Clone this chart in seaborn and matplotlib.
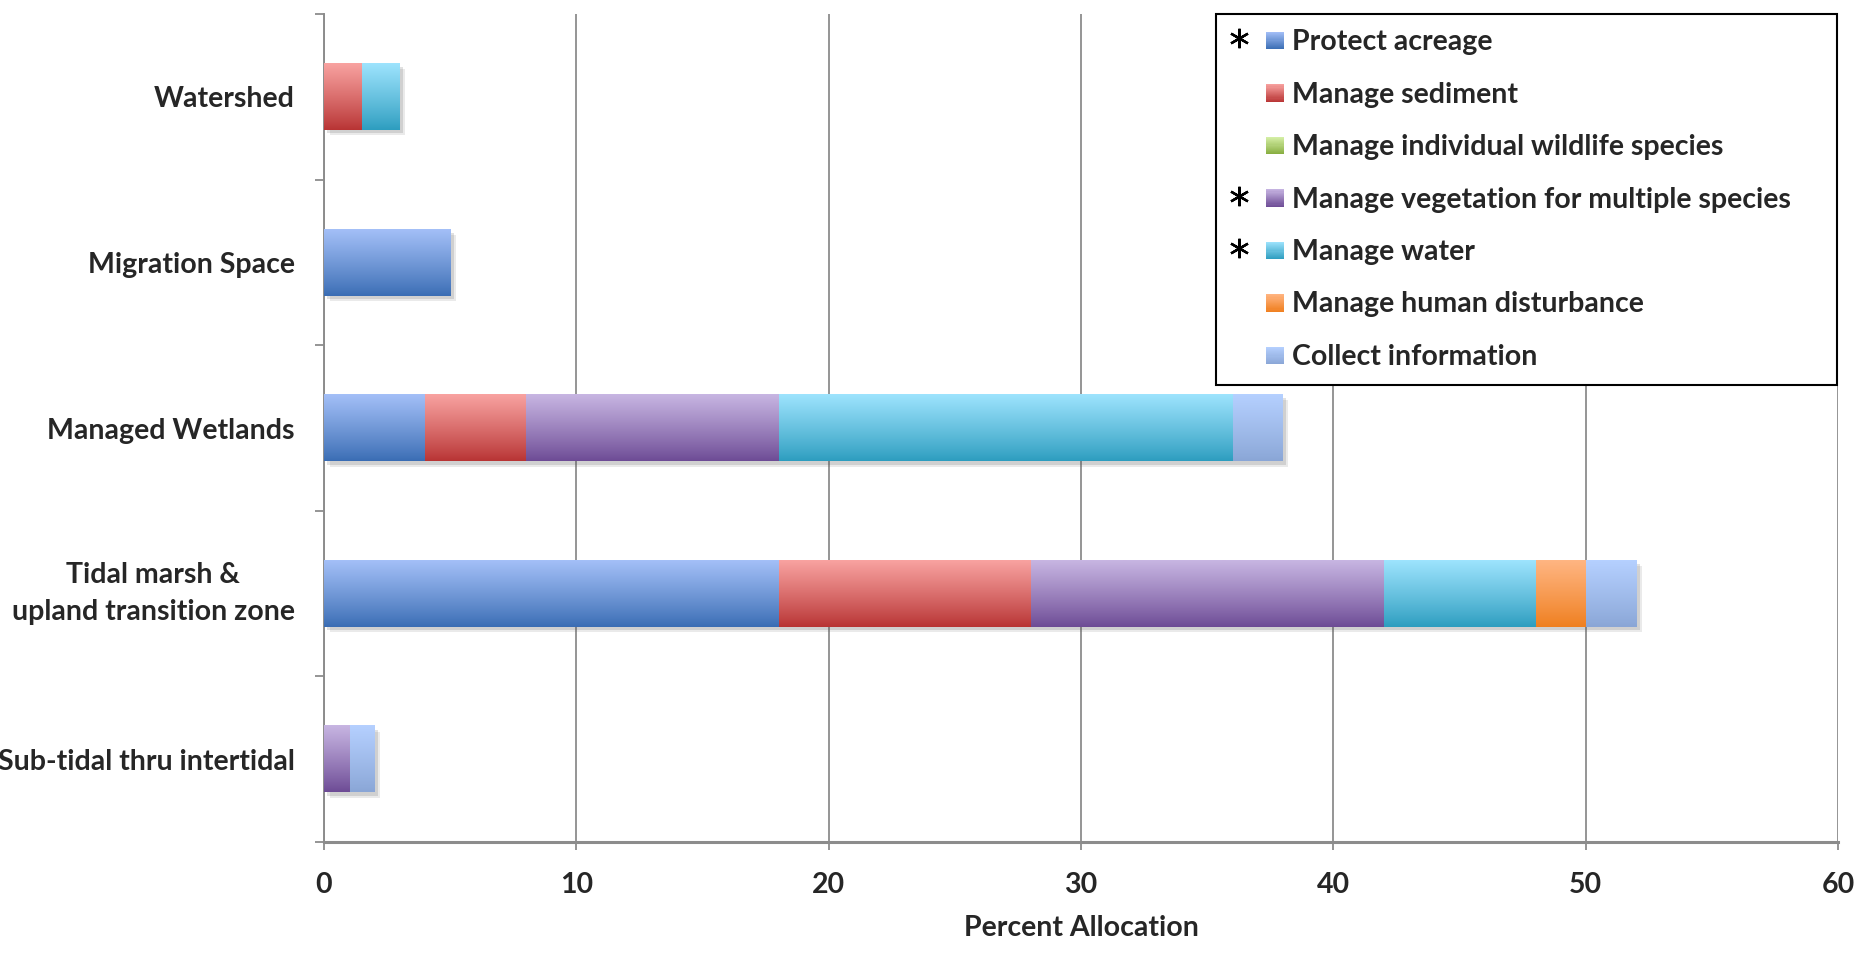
import numpy as np
import pandas as pd
import matplotlib
matplotlib.use("Agg")
import matplotlib.pyplot as plt
import seaborn as sns
from matplotlib.patches import Rectangle
from matplotlib.lines import Line2D
from matplotlib.legend_handler import HandlerBase
from matplotlib import patheffects as pe
from matplotlib.colors import to_rgb

# ---- data -----------------------------------------------------------------
categories = [
    "Watershed",
    "Migration Space",
    "Managed Wetlands",
    "Tidal marsh &\nupland transition zone",
    "Sub-tidal thru intertidal",
]
series_names = [
    "Protect acreage",
    "Manage sediment",
    "Manage individual wildlife species",
    "Manage vegetation for multiple species",
    "Manage water",
    "Manage human disturbance",
    "Collect information",
]
protect_acreage = [0, 5, 4, 18, 0]
manage_sediment = [1.5, 0, 4, 10, 0]
manage_wildlife = [0, 0, 0, 0, 0]
manage_vegetation = [0, 0, 10, 14, 1]
manage_water = [1.5, 0, 18, 6, 0]
manage_human = [0, 0, 0, 2, 0]
collect_information = [0, 0, 2, 2, 1]
starred = ["Protect acreage", "Manage vegetation for multiple species", "Manage water"]
x_ticks = [0, 10, 20, 30, 40, 50, 60]

# light (top) and dark (bottom) colour of each vertical gradient
top_colors = ["#a3bff7", "#f8a2a0", "#d6f0a8", "#c7b5e2", "#9de3fd", "#ffb582", "#b5d0ff"]
bottom_colors = ["#3a6db4", "#b83434", "#86ad3f", "#6d4b95", "#2d9dbf", "#ef7f1f", "#8aa6d6"]

df = pd.DataFrame({
    "Habitat": categories,
    series_names[0]: protect_acreage,
    series_names[1]: manage_sediment,
    series_names[2]: manage_wildlife,
    series_names[3]: manage_vegetation,
    series_names[4]: manage_water,
    series_names[5]: manage_human,
    series_names[6]: collect_information,
})

# ---- style ----------------------------------------------------------------
sns.set_theme(style="white")
plt.rcParams["font.family"] = ["Lato", "DejaVu Sans"]
plt.rcParams["font.weight"] = "bold"
FS = 20.5
GRAY = "#8c8c8c"


def blend(c_bottom, c_top, t):
    a, b = np.array(to_rgb(c_bottom)), np.array(to_rgb(c_top))
    return tuple(a + (b - a) * t)


def gradient_array(c_top, c_bottom, n=64):
    t = np.linspace(1, 0, n)[:, None, None]
    a, b = np.array(to_rgb(c_bottom)), np.array(to_rgb(c_top))
    return a + (b - a) * t ** 0.9


fig = plt.figure(figsize=(18.74, 9.73), dpi=100)
ax = fig.add_axes([0.1729, 0.1346, 0.8079, 0.8510])

# stacked bars: draw running totals from the widest down, each on top of the last
cum = df[series_names].cumsum(axis=1)
cum["Habitat"] = categories
n = len(series_names)
for i in reversed(range(n)):
    name = series_names[i]
    z = 3 + 2 * (n - i)
    before = len(ax.patches)
    sns.barplot(data=cum, x=name, y="Habitat", order=categories, orient="h",
                color=blend(bottom_colors[i], top_colors[i], 0.5), width=0.4,
                errorbar=None, ax=ax, zorder=z, linewidth=0, saturation=1)
    grad = gradient_array(top_colors[i], bottom_colors[i])
    for p in ax.patches[before:]:
        w = p.get_width()
        if w <= 0:
            continue
        y0, h = p.get_y(), p.get_height()
        ax.imshow(grad, extent=(p.get_x(), p.get_x() + w, y0 + h, y0),
                  aspect="auto", origin="upper", zorder=z + 1,
                  interpolation="bilinear")
        if i == n - 1:
            p.set_path_effects([
                pe.SimplePatchShadow(offset=(2.5, -2.5), shadow_rgbFace="0.35", alpha=0.18),
                pe.SimplePatchShadow(offset=(4, -4), shadow_rgbFace="0.35", alpha=0.12),
                pe.Normal(),
            ])

# ---- axes -----------------------------------------------------------------
ax.set_xlim(0, 60)
ax.set_ylim(len(categories) - 0.5, -0.5)
ax.set_xticks(x_ticks)
ax.set_xticklabels([str(v) for v in x_ticks], fontsize=FS, fontweight="bold")
ax.set_yticks(range(len(categories)))
ax.set_yticklabels(categories, fontsize=FS, fontweight="bold",
                   multialignment="center", linespacing=1.5)
for lbl in ax.get_yticklabels():
    if "\n" in lbl.get_text():
        lbl.set_verticalalignment("center")
ax.set_yticks(np.arange(-0.5, len(categories), 1.0), minor=True)
ax.tick_params(axis="y", which="major", length=0, pad=21)
ax.tick_params(axis="y", which="minor", left=True, length=6.5, width=1.3, color=GRAY)
ax.tick_params(axis="x", which="major", bottom=True, length=6, width=1.3,
               color=GRAY, pad=15.5)
ax.set_xlabel("Percent Allocation", fontsize=FS, fontweight="bold", labelpad=12)
ax.set_ylabel("")

ax.set_axisbelow(True)
ax.xaxis.grid(True, color=GRAY, linewidth=1.3)
ax.yaxis.grid(False)
for side in ("top", "right"):
    ax.spines[side].set_visible(False)
ax.spines["bottom"].set_color(GRAY)
ax.spines["bottom"].set_linewidth(2.2)
ax.spines["left"].set_color(GRAY)
ax.spines["left"].set_linewidth(1.4)


# ---- legend with gradient swatches and asterisks ---------------------------
class GradientKey:
    def __init__(self, top, bottom, star):
        self.top, self.bottom, self.star = top, bottom, star


class GradientSwatch(HandlerBase):
    def create_artists(self, legend, orig_handle, xdescent, ydescent,
                       width, height, fontsize, trans):
        side = 12.6
        x0 = width - side - xdescent
        y0 = -ydescent
        arts = []
        nstrip = 16
        for k in range(nstrip):
            t = (k + 0.5) / nstrip
            arts.append(Rectangle((x0, y0 + k * side / nstrip), side, side / nstrip * 1.05,
                                  facecolor=blend(orig_handle.bottom, orig_handle.top, t),
                                  edgecolor="none", transform=trans))
        if orig_handle.star:
            arts.append(Line2D([x0 - 19.5], [y0 + side * 0.62], marker=(6, 2, 0),
                               markersize=14, markeredgewidth=1.7, color="black",
                               linestyle="none", transform=trans))
        return arts


handles = [GradientKey(top_colors[i], bottom_colors[i], series_names[i] in starred)
           for i in range(n)]
leg = ax.legend(handles, series_names, handler_map={GradientKey: GradientSwatch()},
                loc="upper left", bbox_to_anchor=(0.589, 0.0, 0.41, 1.0),
                mode="expand", borderaxespad=0,
                prop={"weight": "bold", "size": FS},
                handlelength=1.85, handleheight=0.62, handletextpad=0.31,
                labelspacing=0.93, borderpad=0.53, fancybox=False,
                frameon=True, edgecolor="black", framealpha=1)
leg.get_frame().set_linewidth(1.5)
leg.set_zorder(50)

fig.savefig("out.png", dpi=100, facecolor="white")
